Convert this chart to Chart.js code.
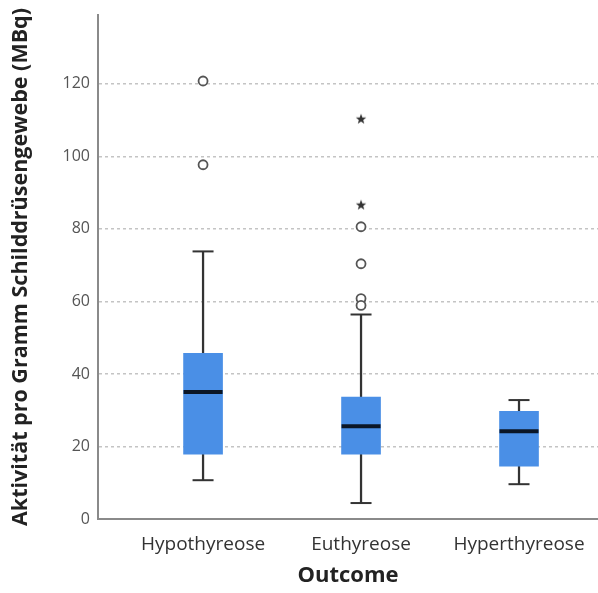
<!DOCTYPE html>
<html>
<head>
<meta charset="utf-8">
<script src="https://cdn.jsdelivr.net/npm/chart.js@4"></script>
<style>
  html, body { margin: 0; padding: 0; background: #fff; overflow: hidden; }
  #wrap { width: 598px; height: 593px; }
</style>
</head>
<body>
<div id="wrap"><canvas id="boxChart"></canvas></div>
<script>
// Werte
var categories = ['Hypothyreose', 'Euthyreose', 'Hyperthyreose'];
var whiskerLow = [10.7, 4.4, 9.6];
var q1 = [17.9, 17.9, 14.6];
var median = [35, 25.6, 24.2];
var q3 = [45.7, 33.6, 29.7];
var whiskerHigh = [73.8, 56.4, 32.8];
var outliersCircle = [[120.8, 97.7], [80.6, 70.4, 60.8, 58.9], []];
var outliersStar = [[], [110.4, 86.7], []];
var yTicks = [0, 20, 40, 60, 80, 100, 120];

// Position der Kategorie auf der x-Achse (1, 2, 3)
function pos(i) { return i + 1; }

var boxData = categories.map(function(c, i) { return {x: pos(i), y: [q1[i], q3[i]]}; });
var stemData = categories.map(function(c, i) { return {x: pos(i), y: [whiskerLow[i], whiskerHigh[i]]}; });
var medianData = categories.map(function(c, i) { return {x: pos(i), y: median[i]}; });
var capData = [];
categories.forEach(function(c, i) {
    capData.push({x: pos(i), y: whiskerLow[i]});
    capData.push({x: pos(i), y: whiskerHigh[i]});
});
var circleData = [];
var starData = [];
categories.forEach(function(c, i) {
    outliersCircle[i].forEach(function(v) { circleData.push({x: pos(i), y: v}); });
    outliersStar[i].forEach(function(v) { starData.push({x: pos(i), y: v}); });
});

// Stern als Punktsymbol
var starImg = document.createElement('canvas');
starImg.width = 12; starImg.height = 12;
(function() {
    var g = starImg.getContext('2d');
    g.fillStyle = '#333';
    g.beginPath();
    for (var k = 0; k < 10; k++) {
        var r = (k % 2 === 0) ? 5.5 : 2.3;
        var a = -Math.PI / 2 + k * Math.PI / 5;
        var px = 6 + r * Math.cos(a), py = 6.5 + r * Math.sin(a);
        if (k === 0) g.moveTo(px, py); else g.lineTo(px, py);
    }
    g.closePath();
    g.fill();
})();

var chart = new Chart(document.getElementById('boxChart'), {
    type: 'bar',
    data: {
        datasets: [
            {
                type: 'line', label: 'Ausreißer', data: circleData, showLine: false,
                pointStyle: 'circle', pointRadius: 4.5, pointBorderWidth: 1.8,
                pointBorderColor: '#555', pointBackgroundColor: '#fff', order: 1
            },
            {
                type: 'line', label: 'Extremwerte', data: starData, showLine: false,
                pointStyle: starImg, pointRadius: 6, order: 1
            },
            {
                type: 'line', label: 'Median', data: medianData, showLine: false,
                pointStyle: 'line', pointRadius: 19.5, pointBorderWidth: 4,
                pointBorderColor: '#0b1626', order: 2
            },
            {
                type: 'line', label: 'Whisker-Enden', data: capData, showLine: false,
                pointStyle: 'line', pointRadius: 10.5, pointBorderWidth: 2,
                pointBorderColor: '#333', order: 2
            },
            {
                label: 'Box', data: boxData, backgroundColor: '#4a8fe6',
                barThickness: 39, grouped: false, order: 3
            },
            {
                label: 'Whisker', data: stemData, backgroundColor: '#333',
                barThickness: 1.6, grouped: false, order: 4
            }
        ]
    },
    options: {
        responsive: true,
        maintainAspectRatio: false,
        animation: false,
        layout: { autoPadding: false, padding: { left: 8, top: 15, right: 0, bottom: 4 } },
        plugins: { legend: { display: false }, tooltip: { enabled: false } },
        scales: {
            x: {
                type: 'linear',
                offset: false,
                min: 0.335,
                max: 3.5,
                afterBuildTicks: function(axis) {
                    axis.ticks = categories.map(function(c, i) { return {value: pos(i)}; });
                },
                afterFit: function(axis) {
                    axis.paddingLeft = 0;
                    axis.paddingRight = 0;
                    axis.height = 70;
                },
                ticks: {
                    color: '#333',
                    font: { family: 'Open Sans', size: 19 },
                    padding: 14,
                    maxRotation: 0,
                    callback: function(v) { return categories[v - 1]; }
                },
                grid: { display: false, drawTicks: false },
                border: { color: '#8a8a8a', width: 2 },
                title: {
                    display: true, text: 'Outcome', color: '#222',
                    font: { family: 'Open Sans', size: 22, weight: 'bold' },
                    padding: { top: 4, bottom: 0 }
                }
            },
            y: {
                min: 0,
                max: 139,
                afterBuildTicks: function(axis) {
                    axis.ticks = yTicks.map(function(v) { return {value: v}; });
                },
                afterFit: function(axis) {
                    axis.paddingTop = 0;
                    axis.paddingBottom = 0;
                    axis.width = 90;
                },
                ticks: {
                    color: '#555',
                    font: { family: 'Open Sans', size: 16 },
                    padding: 8
                },
                grid: {
                    color: function(ctx) { return ctx.tick && ctx.tick.value === 0 ? 'rgba(0,0,0,0)' : '#c4c4c4'; },
                    lineWidth: 1.5,
                    drawTicks: false
                },
                border: { color: '#8a8a8a', width: 2, dash: [3, 3] },
                title: {
                    display: true, text: 'Aktivität pro Gramm Schilddrüsengewebe (MBq)', color: '#222',
                    font: { family: 'Open Sans', size: 21.5, weight: 'bold' },
                    padding: { top: 0, bottom: 0 }
                }
            }
        }
    }
});
</script>
</body>
</html>
